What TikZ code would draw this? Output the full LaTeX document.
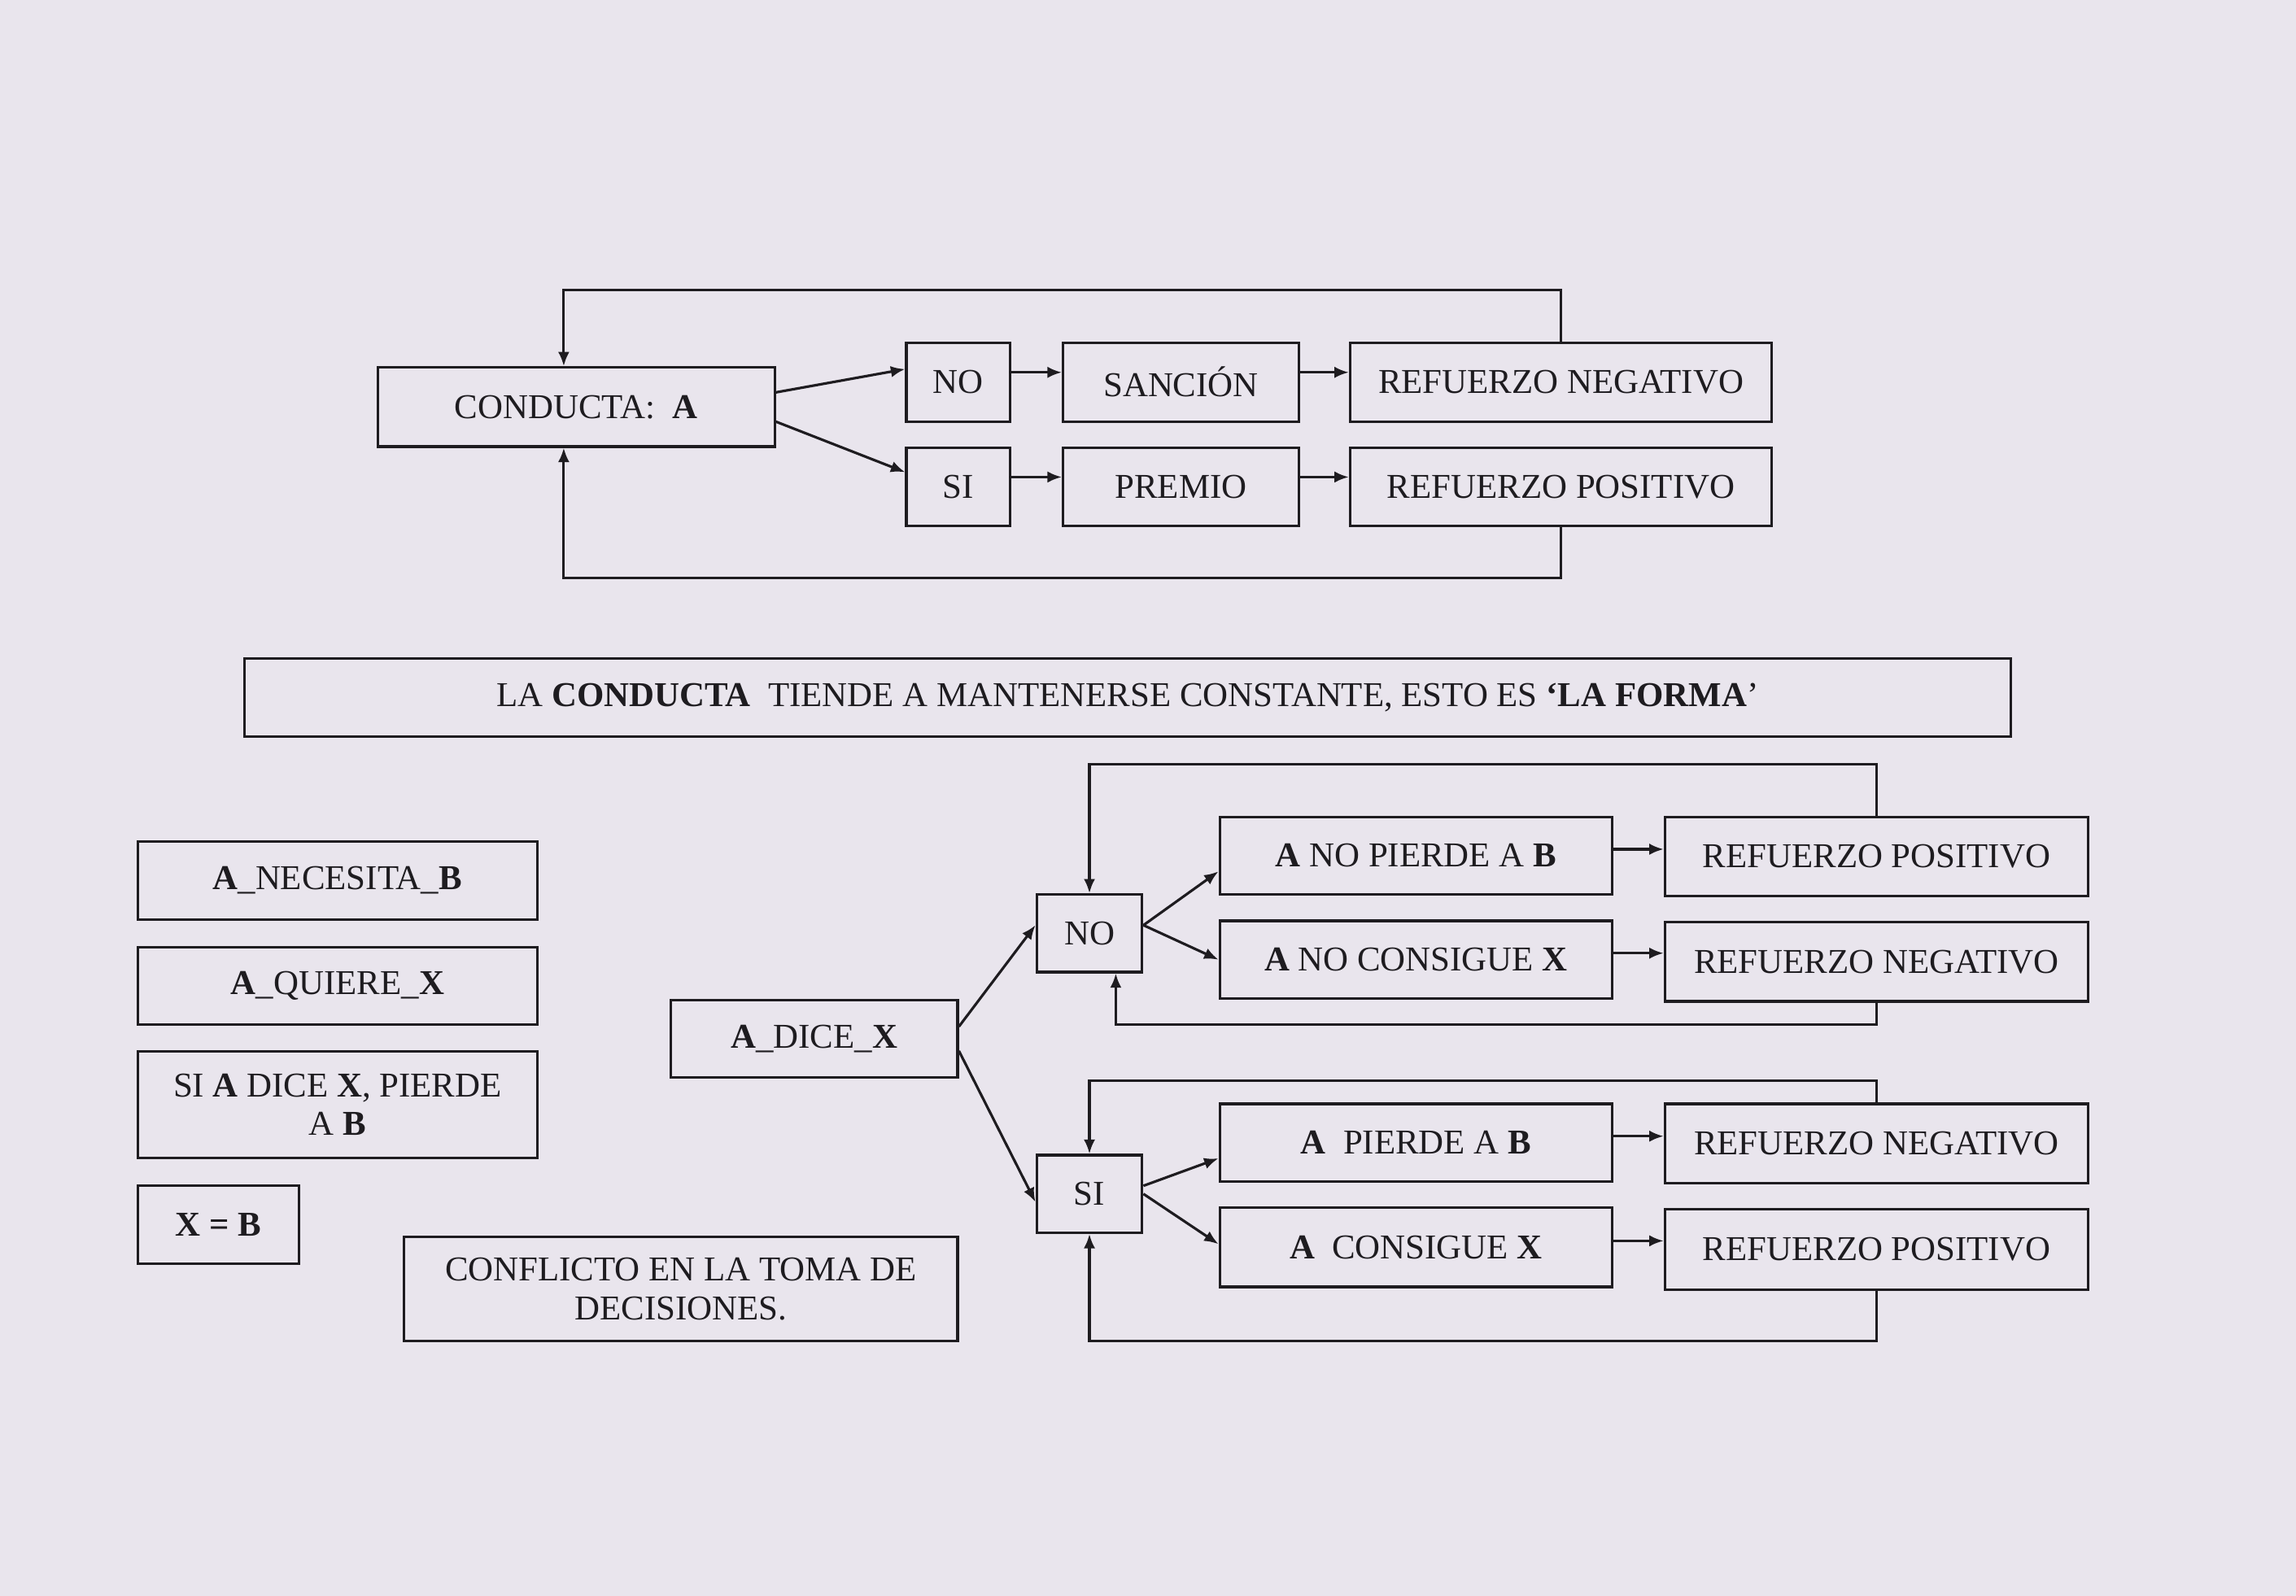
\documentclass[tikz,border=0pt]{standalone}
\usepackage{fontspec}
\setmainfont{Liberation Serif}
\usetikzlibrary{arrows.meta}
\definecolor{bg}{RGB}{233,229,237}
\definecolor{ink}{RGB}{30,28,32}
\newcommand{\bx}[6]{\node[box,minimum width={(#4-#2)*0.018cm},minimum height={(#5-#3)*0.018cm}] (#1) at ({(#2+#4)/2},{(#3+#5)/2}) {#6};}
\begin{document}
\begin{tikzpicture}[x=0.018cm,y=-0.018cm,
 box/.style={draw=ink,line width=0.9pt,inner sep=2pt,align=center,font=\fontsize{12.2}{13.5}\selectfont,text=ink},
 ar/.style={draw=ink,line width=0.9pt,-{Latex[length=5pt,width=4pt]}},
 ln/.style={draw=ink,line width=0.9pt}]
\fill[bg] (0,0) rectangle (1568,1090);
\useasboundingbox (0,0) rectangle (1568,1090);
% top
\bx{cond}{258}{251}{529}{305}{CONDUCTA:\ \ \textbf{A}}
\bx{no1}{619}{234}{690}{288}{NO}
\bx{san}{726}{234}{887}{288}{SANCIÓN}
\bx{rn1}{922}{234}{1210}{288}{REFUERZO NEGATIVO}
\bx{si1}{619}{306}{690}{359}{SI}
\bx{pre}{726}{306}{887}{359}{PREMIO}
\bx{rp1}{922}{306}{1210}{359}{REFUERZO POSITIVO}
\draw[ar] ([yshift=0.18cm]cond.east) -- ([yshift=0.16cm]no1.west);
\draw[ar] ([yshift=-0.18cm]cond.east) -- ([yshift=0.18cm]si1.west);
\draw[ar] ([yshift=0.12cm]no1.east) -- ([yshift=0.12cm]no1.east -| san.west);
\draw[ar] ([yshift=0.12cm]san.east) -- ([yshift=0.12cm]san.east -| rn1.west);
\draw[ar] ([yshift=0.12cm]si1.east) -- ([yshift=0.12cm]si1.east -| pre.west);
\draw[ar] ([yshift=0.12cm]pre.east) -- ([yshift=0.12cm]pre.east -| rp1.west);
\coordinate (t1) at (385,198); \coordinate (t2) at (385,395);
\draw[ar] (rn1.north) |- (t1) -- (t1 |- cond.north);
\draw[ar] (rp1.south) |- (t2) -- (t2 |- cond.south);
% banner
\bx{ban}{167}{450}{1373}{503}{LA \textbf{CONDUCTA}\ \ TIENDE A MANTENERSE CONSTANTE, ESTO ES \textbf{‘LA FORMA}’}
% left
\bx{nec}{94}{575}{367}{628}{\textbf{A}\_NECESITA\_\textbf{B}}
\bx{qui}{94}{647}{367}{700}{\textbf{A}\_QUIERE\_\textbf{X}}
\bx{sid}{94}{718}{367}{791}{SI \textbf{A} DICE \textbf{X}, PIERDE\\A \textbf{B}}
\bx{xb}{94}{810}{204}{863}{\textbf{X = B}}
\bx{conf}{276}{845}{654}{916}{CONFLICTO EN LA TOMA DE\\DECISIONES.}
\bx{dice}{458}{683}{654}{736}{\textbf{A}\_DICE\_\textbf{X}}
\bx{no2}{708}{611}{780}{664}{NO}
\bx{si2}{708}{789}{780}{842}{SI}
\bx{anp}{833}{558}{1101}{611}{\textbf{A} NO PIERDE A \textbf{B}}
\bx{anc}{833}{629}{1101}{682}{\textbf{A} NO CONSIGUE \textbf{X}}
\bx{ap}{833}{754}{1101}{807}{\textbf{A}\ \ PIERDE A \textbf{B}}
\bx{ac}{833}{825}{1101}{879}{\textbf{A}\ \ CONSIGUE \textbf{X}}
\bx{r1}{1137}{558}{1426}{612}{REFUERZO POSITIVO}
\bx{r2}{1137}{630}{1426}{684}{REFUERZO NEGATIVO}
\bx{r3}{1137}{754}{1426}{808}{REFUERZO NEGATIVO}
\bx{r4}{1137}{826}{1426}{881}{REFUERZO POSITIVO}
\draw[ar] ([yshift=0.15cm]dice.east) -- ([yshift=0.1cm]no2.west);
\draw[ar] ([yshift=-0.15cm]dice.east) -- ([yshift=-0.1cm]si2.west);
\draw[ar] ([yshift=0.1cm]no2.east) -- ([yshift=0.3cm]anp.south west);
\draw[ar] ([yshift=0.1cm]no2.east) -- (anc.west);
\draw[ar] ([yshift=0.1cm]si2.east) -- ([yshift=0.3cm]ap.south west);
\draw[ar] (si2.east) -- ([yshift=0.04cm]ac.west);
\draw[ar] ([yshift=0.08cm]anp.east) -- ([yshift=0.08cm]anp.east -| r1.west);
\draw[ar] ([yshift=0.08cm]anc.east) -- ([yshift=0.08cm]anc.east -| r2.west);
\draw[ar] ([yshift=0.08cm]ap.east) -- ([yshift=0.08cm]ap.east -| r3.west);
\draw[ar] ([yshift=0.08cm]ac.east) -- ([yshift=0.08cm]ac.east -| r4.west);
\coordinate (b1) at (744,522); \coordinate (b2) at (762,700);
\coordinate (b3) at (744,738); \coordinate (b4) at (744,916);
\draw[ar] (r1.north) |- (b1) -- (b1 |- no2.north);
\draw[ar] (r2.south) |- (b2) -- (b2 |- no2.south);
\draw[ar] (r3.north) |- (b3) -- (b3 |- si2.north);
\draw[ar] (r4.south) |- (b4) -- (b4 |- si2.south);
\end{tikzpicture}
\end{document}
